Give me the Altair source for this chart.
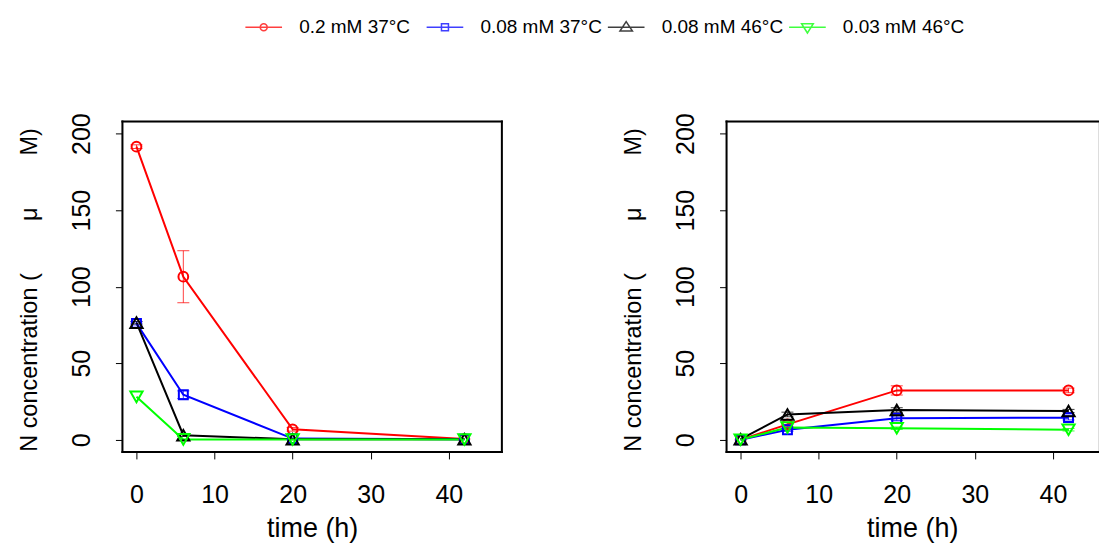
import altair as alt
import pandas as pd

# ---------------- data ----------------
time_h = [0, 6, 20, 42]
series_names = ["0.2 mM 37°C", "0.08 mM 37°C", "0.08 mM 46°C", "0.03 mM 46°C"]
series_colors = ["#FF0000", "#0000FF", "#000000", "#00FF00"]
point_shapes = ["circle", "square", "triangle-up", "triangle-down"]
point_sizes = [95, 80, 150, 150]

# left panel (consumption)
left_red = [191.5, 106.5, 6.8, 0.4]
left_blue = [76.0, 29.4, 0.7, 0.3]
left_black = [76.5, 2.9, 0.3, 0.3]
left_green = [28.0, 0.2, 0.1, 0.1]
left_err_red = [1.2, 17.0, 1.2, 0.0]
left_err_blue = [1.0, 2.5, 0.0, 0.0]
left_err_black = [0.8, 0.8, 0.0, 0.0]
left_err_green = [0.0, 0.0, 0.0, 0.0]

# right panel (production)
right_red = [0.0, 10.0, 32.2, 32.2]
right_blue = [0.0, 6.5, 14.0, 14.4]
right_black = [0.3, 16.5, 19.4, 18.8]
right_green = [0.0, 8.0, 7.5, 6.5]
right_err_red = [0.0, 1.5, 3.0, 1.5]
right_err_blue = [0.0, 1.0, 1.5, 1.5]
right_err_black = [0.0, 1.5, 1.5, 1.0]
right_err_green = [0.0, 0.0, 0.8, 0.8]

x_ticks = [0, 10, 20, 30, 40]
y_ticks = [0, 50, 100, 150, 200]

legend_paths = [
    "M-1,0H1M0.19,0A0.19,0.19,0,1,1,-0.19,0A0.19,0.19,0,1,1,0.19,0",
    "M-1,0H1M-0.19,-0.19H0.19V0.19H-0.19Z",
    "M-1,0H1M0,-0.31L0.34,0.2L-0.34,0.2Z",
    "M-1,0H1M0,0.31L0.32,-0.2L-0.32,-0.2Z",
]

FONT = "Liberation Sans"
H = 331
W_LEFT = 380
W_RIGHT = 372
PX_PER_UNIT = W_LEFT / 48.6
NB = "\u00a0"
Y_TITLE = "N concentration (" + NB * 8 + "μ" + NB * 8 + "M)"


def build_df(vals, errs):
    rows = []
    for i, name in enumerate(series_names):
        for t, v, e in zip(time_h, vals[i], errs[i]):
            rows.append({
                "series": name, "t": t, "v": v, "err": e,
                "lo": v - e, "hi": v + e,
                "col": series_colors[i], "shape": point_shapes[i],
                "size": point_sizes[i], "order": i,
            })
    return pd.DataFrame(rows)


left_df = build_df([left_red, left_blue, left_black, left_green],
                   [left_err_red, left_err_blue, left_err_black, left_err_green])
right_df = build_df([right_red, right_blue, right_black, right_green],
                    [right_err_red, right_err_blue, right_err_black, right_err_green])

frame_df = pd.DataFrame({"k": [0]})
legend_df = pd.DataFrame({"series": series_names})


def panel(df, width, x_max, sides, with_legend):
    xs = alt.Scale(domain=[-1.8, x_max], nice=False, zero=False)
    ys = alt.Scale(domain=[-8, 208], nice=False, zero=False)
    x_axis = alt.Axis(values=x_ticks, tickSize=7, tickColor="black", tickWidth=1,
                      domain=False, grid=False, labelFontSize=25, labelFont=FONT,
                      labelColor="black", labelBaseline="alphabetic", labelPadding=44,
                      labelFlush=False, labelOverlap=False,
                      title="time (h)", titleFont=FONT, titleFontSize=27,
                      titleFontWeight="normal", titleColor="black",
                      titleBaseline="alphabetic", titleY=85)
    y_axis = alt.Axis(values=y_ticks, tickSize=7, tickColor="black", tickWidth=1,
                      domain=False, grid=False, labelFontSize=25, labelFont=FONT,
                      labelColor="black", labelAngle=270, labelAlign="center",
                      labelBaseline="alphabetic", labelPadding=26,
                      labelFlush=False, labelOverlap=False,
                      title=Y_TITLE, titleFont=FONT,
                      titleFontSize=23.5, titleFontWeight="normal", titleColor="black",
                      titleAngle=270, titleAlign="center", titleBaseline="alphabetic",
                      titleX=-86.5, titleY=H / 2 + 2.8)

    base = alt.Chart(df)
    x = alt.X("t:Q", scale=xs, axis=x_axis)
    y = alt.Y("v:Q", scale=ys, axis=y_axis)

    bars_df = df[df["err"] > 0]
    ebar = alt.Chart(bars_df).mark_rule(strokeWidth=1, opacity=0.75).encode(
        x=alt.X("t:Q", scale=xs), y=alt.Y("lo:Q", scale=ys), y2="hi:Q",
        color=alt.Color("col:N", scale=None))
    cap_lo = alt.Chart(bars_df).mark_tick(orient="horizontal", size=12, thickness=1,
                                          opacity=0.75).encode(
        x=alt.X("t:Q", scale=xs), y=alt.Y("lo:Q", scale=ys),
        color=alt.Color("col:N", scale=None))
    cap_hi = alt.Chart(bars_df).mark_tick(orient="horizontal", size=12, thickness=1,
                                          opacity=0.75).encode(
        x=alt.X("t:Q", scale=xs), y=alt.Y("hi:Q", scale=ys),
        color=alt.Color("col:N", scale=None))

    lines = base.mark_line(strokeWidth=2).encode(
        x=x, y=y, detail="series:N", order="t:Q",
        color=alt.Color("col:N", scale=None))
    pts = base.mark_point(filled=False, strokeWidth=2, opacity=1).encode(
        x=alt.X("t:Q", scale=xs), y=alt.Y("v:Q", scale=ys),
        color=alt.Color("col:N", scale=None),
        shape=alt.Shape("shape:N", scale=None),
        size=alt.Size("size:Q", scale=None))

    fr = alt.Chart(frame_df)
    frame_layers = []
    if "top" in sides:
        frame_layers.append(fr.mark_rule(color="black", strokeWidth=2, strokeCap="square").encode(
            x=alt.value(0), x2=alt.value(width), y=alt.value(0)))
    if "bottom" in sides:
        frame_layers.append(fr.mark_rule(color="black", strokeWidth=2, strokeCap="square").encode(
            x=alt.value(0), x2=alt.value(width), y=alt.value(H)))
    if "left" in sides:
        frame_layers.append(fr.mark_rule(color="black", strokeWidth=2, strokeCap="square").encode(
            x=alt.value(0), y=alt.value(0), y2=alt.value(H)))
    if "right" in sides:
        frame_layers.append(fr.mark_rule(color="black", strokeWidth=2, strokeCap="square").encode(
            x=alt.value(width), y=alt.value(0), y2=alt.value(H)))

    layers = [lines, ebar, cap_lo, cap_hi, pts] + frame_layers

    if with_legend:
        leg = alt.Legend(orient="none", legendX=122, legendY=-114, direction="horizontal",
                         title=None, labelFont=FONT, labelFontSize=19, labelColor="black",
                         symbolSize=1347, symbolStrokeWidth=1.5, symbolFillColor="transparent",
                         labelOffset=16, columnPadding=2.5, gridAlign="all",
                         symbolOffset=0, padding=0, offset=0, labelLimit=300)
        legend_layer = alt.Chart(legend_df).mark_point(filled=False, strokeWidth=1.5,
                                                       size=1347).encode(
            color=alt.Color("series:N", sort=None,
                            scale=alt.Scale(domain=series_names, range=series_colors),
                            legend=leg),
            shape=alt.Shape("series:N", sort=None,
                            scale=alt.Scale(domain=series_names, range=legend_paths),
                            legend=leg),
        ).transform_filter("false")
        layers.append(legend_layer)

    return alt.layer(*layers).properties(width=width, height=H)


left = panel(left_df, W_LEFT, 46.8, ["top", "bottom", "left", "right"], True)
right = panel(right_df, W_RIGHT, -1.8 + W_RIGHT / PX_PER_UNIT, ["top", "bottom", "left"], False)

chart = alt.hconcat(left, right, spacing=225, bounds="flush").properties(
    padding={"left": 16.6, "top": 7.2, "right": 0, "bottom": 0},
    background="white",
).configure_view(stroke="transparent").configure(font=FONT)

chart.save("out.html", embed_options={"renderer": "svg", "actions": False})
